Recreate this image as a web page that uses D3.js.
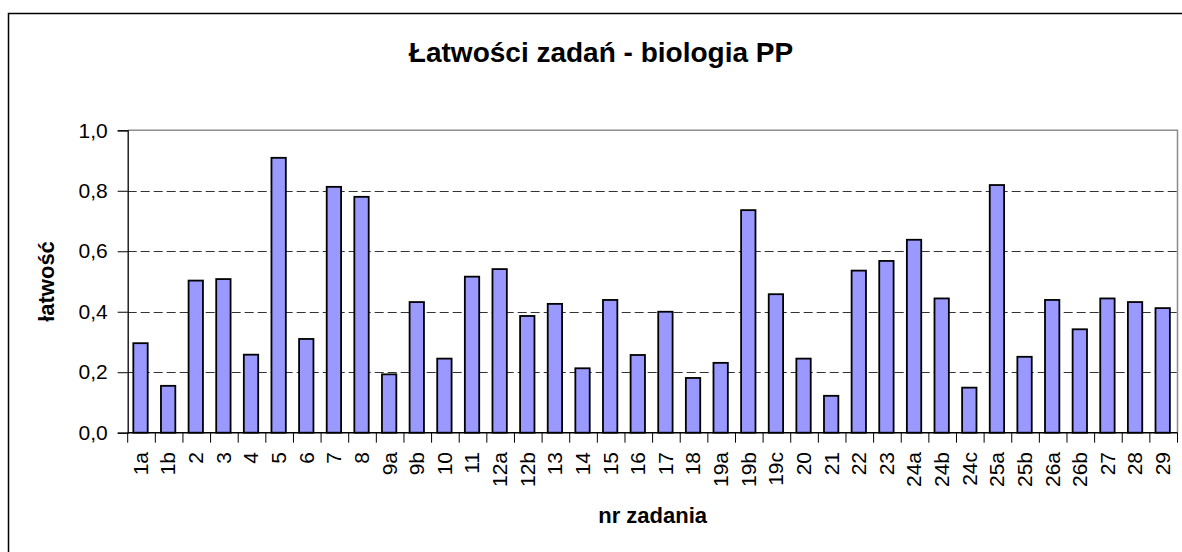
<!DOCTYPE html>
<html>
<head>
<meta charset="utf-8">
<script src="https://cdn.jsdelivr.net/npm/d3@7"></script>
<style>
  html, body { margin: 0; padding: 0; background: #fff; }
  svg { display: block; font-family: "Liberation Sans", Arial, sans-serif; }
</style>
</head>
<body>
<svg id="chart" width="1182" height="552"></svg>
<script>
const categories = ["1a","1b","2","3","4","5","6","7","8","9a","9b","10","11","12a","12b","13","14","15","16","17","18","19a","19b","19c","20","21","22","23","24a","24b","24c","25a","25b","26a","26b","27","28","29"];
const values = [0.296,0.155,0.503,0.508,0.258,0.909,0.310,0.813,0.780,0.193,0.432,0.245,0.516,0.541,0.386,0.426,0.213,0.439,0.257,0.400,0.181,0.231,0.736,0.458,0.245,0.122,0.536,0.568,0.638,0.444,0.149,0.819,0.251,0.439,0.342,0.444,0.432,0.412];
const yTicks = [0, 0.2, 0.4, 0.6, 0.8, 1.0];
const gridTicks = [0.2, 0.4, 0.6, 0.8];
const chartTitle = "Łatwości zadań - biologia PP";
const xTitle = "nr zadania";
const yTitle = "łatwość";

const svg = d3.select("#chart");
const plot = { left: 127.7, right: 1177.5, top: 130.3, bottom: 432.7 };

// outer chart border (cropped at right and bottom)
svg.append("path")
  .attr("d", "M8.5,552 V13.5 H1182")
  .attr("fill", "none").attr("stroke", "#000").attr("stroke-width", 1.5);

const x = d3.scaleBand().domain(categories).range([plot.left, plot.right]).paddingInner(0).paddingOuter(0);
const xb = d3.scaleBand().domain(categories).range([plot.left, plot.right]).paddingInner(0.48).paddingOuter(0.24);
const y = d3.scaleLinear().domain([0, 1]).range([plot.bottom, plot.top]);

// plot border top + right (gray)
svg.append("path")
  .attr("d", `M${plot.left},${y(1)} H${plot.right} V${plot.bottom}`)
  .attr("fill", "none").attr("stroke", "#8c8c8c").attr("stroke-width", 1.5);

// gridlines
svg.append("g").selectAll("line").data(gridTicks).join("line")
  .attr("x1", plot.left).attr("x2", plot.right)
  .attr("y1", d => Math.round(y(d)) + 0.5).attr("y2", d => Math.round(y(d)) + 0.5)
  .attr("stroke", "#333").attr("stroke-width", 1).attr("stroke-dasharray", "9,4");

// bars
svg.append("g").selectAll("rect").data(categories).join("rect")
  .attr("x", d => xb(d) - 1)
  .attr("width", xb.bandwidth())
  .attr("y", (d, i) => y(values[i]))
  .attr("height", (d, i) => y(0) - y(values[i]))
  .attr("fill", "#9999ff").attr("stroke", "#000").attr("stroke-width", 1.8);

// y axis
const yAxis = svg.append("g").attr("transform", `translate(${plot.left},0)`)
  .call(d3.axisLeft(y).tickValues(yTicks).tickSize(10).tickPadding(10)
    .tickFormat(d => d.toFixed(1).replace(".", ",")));
yAxis.select(".domain").attr("stroke", "#000").attr("stroke-width", 1.3);
yAxis.selectAll(".tick line").attr("stroke", "#000");
yAxis.selectAll(".tick text").attr("font-size", 21).attr("fill", "#000")
  .attr("font-family", "Liberation Sans, Arial, sans-serif");

// x axis line
svg.append("line").attr("x1", plot.left).attr("x2", plot.right)
  .attr("y1", plot.bottom).attr("y2", plot.bottom)
  .attr("stroke", "#000").attr("stroke-width", 1.5);
// x ticks at category boundaries
const bounds = categories.map(c => x(c)).concat([plot.right]);
svg.append("g").selectAll("line").data(bounds).join("line")
  .attr("x1", d => d).attr("x2", d => d)
  .attr("y1", plot.bottom).attr("y2", plot.bottom + 10)
  .attr("stroke", "#000").attr("stroke-width", 1);
// x labels
svg.append("g").selectAll("text").data(categories).join("text")
  .attr("transform", d => `translate(${x(d) + x.bandwidth() / 2 - 1},452) rotate(-90)`)
  .attr("text-anchor", "end").attr("dy", "0.35em")
  .attr("font-size", 21).attr("fill", "#000")
  .text(d => d);

// titles
svg.append("text").attr("x", 601).attr("y", 62).attr("text-anchor", "middle")
  .attr("font-size", 28).attr("font-weight", "bold").text(chartTitle);
svg.append("text").attr("x", (plot.left + plot.right) / 2).attr("y", 523).attr("text-anchor", "middle")
  .attr("font-size", 22).attr("font-weight", "bold").text(xTitle);
svg.append("text").attr("transform", `translate(54,${(plot.top + plot.bottom) / 2}) rotate(-90)`)
  .attr("text-anchor", "middle")
  .attr("font-size", 22).attr("font-weight", "bold").text(yTitle);
</script>
</body>
</html>
